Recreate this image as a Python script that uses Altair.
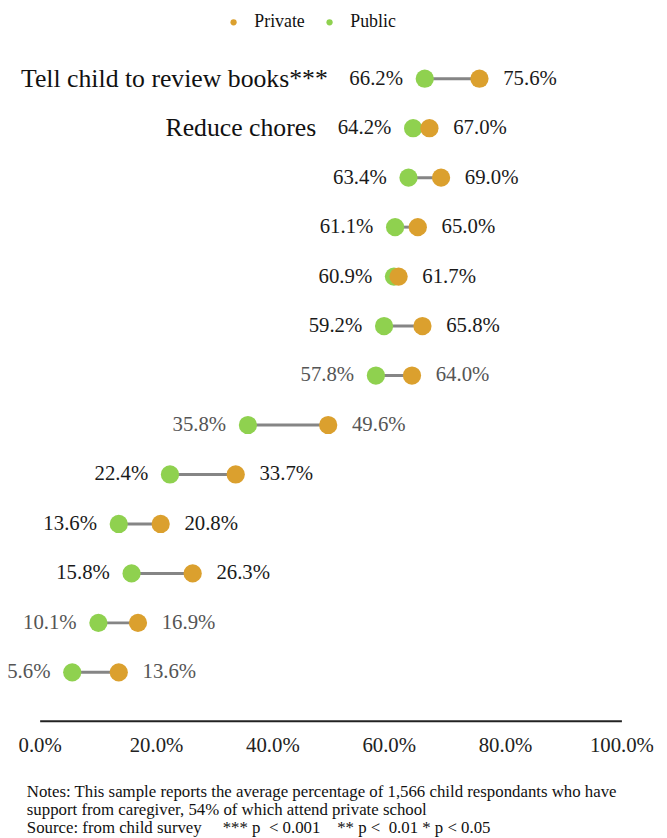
import altair as alt
import pandas as pd

# ---- data ----
rows = list(range(1, 14))
categories = ["Tell child to review books***", "Reduce chores", "", "", "", "", "",
              "", "", "", "", "", ""]
public_pct = [66.2, 64.2, 63.4, 61.1, 60.9, 59.2, 57.8, 35.8, 22.4, 13.6, 15.8, 10.1, 5.6]
private_pct = [75.6, 67.0, 69.0, 65.0, 61.7, 65.8, 64.0, 49.6, 33.7, 20.8, 26.3, 16.9, 13.6]
significant = [True, True, True, True, True, True, False, False, True, True, True, False, False]
x_ticks = [0, 20, 40, 60, 80, 100]
groups = ["Private", "Public"]
group_colors = ["#DBA02E", "#8FD14F"]
notes = [
    "Notes: This sample reports the average percentage of 1,566 child respondants who have",
    "support from caregiver, 54% of which attend private school",
    "Source: from child survey\u00a0\u00a0\u00a0\u00a0\u00a0*** p\u00a0 < 0.001\u00a0\u00a0\u00a0\u00a0** p <\u00a0 0.01 * p < 0.05",
]

wide = pd.DataFrame({
    "row": rows,
    "category": categories,
    "public": public_pct,
    "private": private_pct,
    "sig": significant,
})
long = pd.concat([
    pd.DataFrame({"row": rows, "group": "Public", "value": public_pct}),
    pd.DataFrame({"row": rows, "group": "Private", "value": private_pct}),
], ignore_index=True)

FONT = "Liberation Serif"
W, H = 588, 674

xscale = alt.Scale(domain=[0, 100], nice=False, zero=False)
yscale = alt.Scale(domain=[0.5, 13.98], reverse=True, nice=False, zero=False)

xaxis = alt.Axis(
    values=x_ticks,
    labelExpr="format(datum.value, '.1f') + '%'",
    grid=False, ticks=False, tickSize=0, title=None,
    domainColor="#222222", domainWidth=2,
    labelFont=FONT, labelFontSize=21, labelColor="#222222",
    labelPadding=14, labelFlush=False, labelOverlap=False,
)

base_w = alt.Chart(wide)

rule = base_w.mark_rule(color="#858585", strokeWidth=3).encode(
    x=alt.X("public:Q", scale=xscale, axis=xaxis),
    x2="private:Q",
    y=alt.Y("row:Q", scale=yscale, axis=None),
)

dots = alt.Chart(long).mark_circle(size=340, opacity=1).encode(
    x=alt.X("value:Q", scale=xscale, axis=xaxis),
    y=alt.Y("row:Q", scale=yscale, axis=None),
    color=alt.Color(
        "group:N",
        scale=alt.Scale(domain=groups, range=group_colors),
        legend=alt.Legend(
            title=None, orient="none", direction="horizontal", columns=2,
            legendX=187, legendY=-41, padding=0,
            symbolType="circle", symbolSize=40, symbolOpacity=1,
            labelFont=FONT, labelFontSize=18, labelColor="#111111",
            labelOffset=12, columnPadding=16,
        ),
    ),
    order=alt.Order("order_key:Q"),
).transform_calculate(order_key="datum.group == 'Public' ? 0 : 1")

label_color = alt.condition("datum.sig", alt.value("#1a1a1a"), alt.value("#555555"))

pub_lab = base_w.mark_text(align="right", baseline="middle", dx=-22, font=FONT, fontSize=21).encode(
    x=alt.X("public:Q", scale=xscale),
    y=alt.Y("row:Q", scale=yscale),
    text="plab:N",
    color=label_color,
).transform_calculate(plab="format(datum.public, '.1f') + '%'")

priv_lab = base_w.mark_text(align="left", baseline="middle", dx=24, font=FONT, fontSize=21).encode(
    x=alt.X("private:Q", scale=xscale),
    y=alt.Y("row:Q", scale=yscale),
    text="qlab:N",
    color=label_color,
).transform_calculate(qlab="format(datum.private, '.1f') + '%'")

cat_lab = base_w.mark_text(align="right", baseline="middle", dx=-98, font=FONT, fontSize=26,
                           color="#111111").encode(
    x=alt.X("public:Q", scale=xscale),
    y=alt.Y("row:Q", scale=yscale),
    text="category:N",
).transform_filter("datum.category != ''")

chart = alt.layer(rule, dots, pub_lab, priv_lab, cat_lab).properties(
    width=W, height=H,
    autosize=alt.AutoSizeParams(type="none"),
    padding={"left": 32, "top": 42, "right": 38, "bottom": 118},
    title=alt.TitleParams(
        text=notes, orient="bottom", anchor="start", frame="group",
        font=FONT, fontSize=17, fontWeight="normal", color="#111111",
        lineHeight=18, dx=-13, offset=29,
    ),
).configure_view(strokeWidth=0)

chart.save("out.html", embed_options={"renderer": "svg", "actions": False})
